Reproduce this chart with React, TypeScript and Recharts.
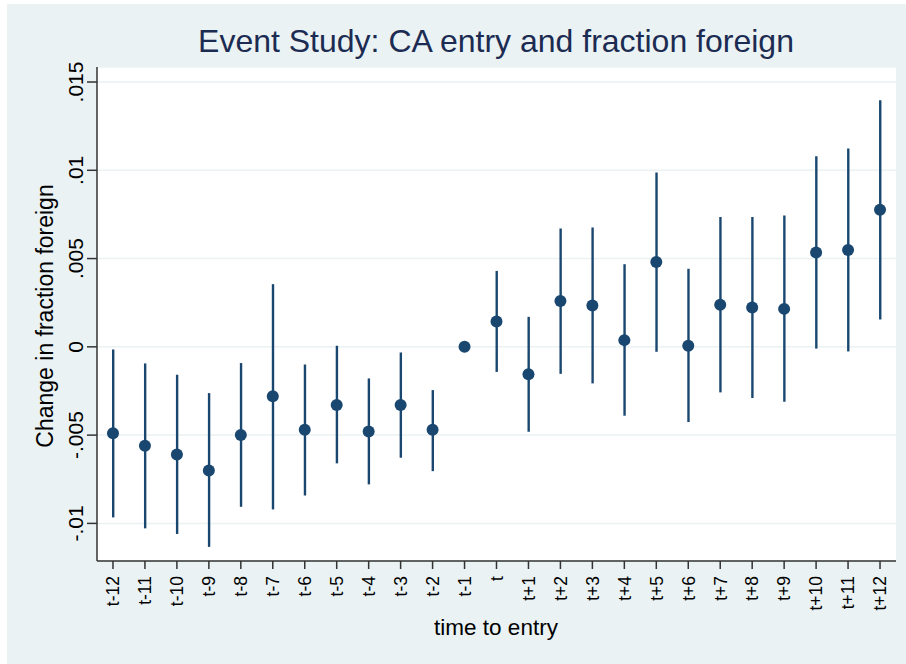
import React from "react";
import { Bar, CartesianGrid, ComposedChart, Line, XAxis, YAxis } from "recharts";

const NAVY = "#1a476f";
const BG = "#eaf2f3";
const AXIS = "#333333";
const FONT = "'Liberation Sans', Arial, Helvetica, sans-serif";

const LABELS = [
  "t-12", "t-11", "t-10", "t-9", "t-8", "t-7", "t-6", "t-5", "t-4", "t-3", "t-2", "t-1",
  "t", "t+1", "t+2", "t+3", "t+4", "t+5", "t+6", "t+7", "t+8", "t+9", "t+10", "t+11", "t+12",
];

const COEF = [
  -0.0049, -0.0056, -0.0061, -0.007, -0.005, -0.0028, -0.0047, -0.0033, -0.0048, -0.0033, -0.0047, 0,
  0.00144, -0.00155, 0.0026, 0.00234, 0.00038, 0.0048, 0.00006, 0.00238, 0.00223, 0.00215, 0.00534, 0.00549, 0.00776,
];

const LOWER = [
  -0.00966, -0.01028, -0.0106, -0.01133, -0.00906, -0.00921, -0.00842, -0.0066, -0.00779, -0.00628, -0.00704, null,
  -0.00142, -0.00481, -0.00153, -0.00207, -0.0039, -0.00028, -0.00426, -0.00258, -0.0029, -0.00311, -0.0001, -0.00026, 0.00155,
];

const UPPER = [
  -0.00015, -0.00094, -0.00158, -0.00262, -0.00092, 0.00355, -0.001, 0.00006, -0.00179, -0.00032, -0.00245, null,
  0.0043, 0.0017, 0.0067, 0.00676, 0.00468, 0.00987, 0.00442, 0.00736, 0.00736, 0.00744, 0.0108, 0.01123, 0.01397,
];

const Y_TICKS = [-0.01, -0.005, 0, 0.005, 0.01, 0.015];

const data = LABELS.map((lab, i) => ({
  lab,
  coef: COEF[i],
  ci: LOWER[i] == null ? null : [LOWER[i], UPPER[i]],
}));

const fmtY = (v: number) => (v === 0 ? "0" : String(v).replace("0.", "."));

const YTick = ({ x, y, payload }: any) => (
  <text
    x={x}
    y={y}
    transform={`rotate(-90 ${x} ${y})`}
    textAnchor="middle"
    fontSize={21}
    fontFamily={FONT}
    fill="#000"
  >
    {fmtY(payload.value)}
  </text>
);

const XTick = ({ x, y, payload }: any) => (
  <text
    x={x}
    y={y}
    dy="0.36em"
    transform={`rotate(-90 ${x} ${y})`}
    textAnchor="end"
    fontSize={17.5}
    fontFamily={FONT}
    fill="#000"
  >
    {payload.value}
  </text>
);

export default function App() {
  return (
    <div style={{ position: "absolute", left: 0, top: 0, width: 906, height: 664, background: "#fff" }}>
      <div style={{ position: "absolute", left: 7, top: 4, width: 899, height: 660, background: BG }} />
      <div style={{ position: "absolute", left: 0, top: 0 }}>
        <ComposedChart
          width={906}
          height={664}
          data={data}
          margin={{ top: 67, right: 10, bottom: 43, left: 37 }}
        >
          <CartesianGrid vertical={false} stroke={BG} strokeWidth={1.5} fill="#fff" fillOpacity={1} />
          <XAxis
            dataKey="lab"
            height={60}
            interval={0}
            tick={<XTick />}
            tickSize={8}
            tickMargin={7}
            axisLine={{ stroke: AXIS, strokeWidth: 1.5 }}
            tickLine={{ stroke: AXIS, strokeWidth: 1.5 }}
          />
          <YAxis
            type="number"
            width={60}
            domain={[-0.01213, 0.01585]}
            allowDataOverflow
            ticks={Y_TICKS}
            interval={0}
            tick={<YTick />}
            tickSize={10}
            tickMargin={4}
            axisLine={{ stroke: AXIS, strokeWidth: 1.5 }}
            tickLine={{ stroke: AXIS, strokeWidth: 1.5 }}
          />
          <Bar dataKey="ci" barSize={2.4} fill={NAVY} isAnimationActive={false} />
          <Line
            dataKey="coef"
            stroke="none"
            dot={{ r: 6, fill: NAVY, stroke: "none" }}
            activeDot={false}
            isAnimationActive={false}
          />
        </ComposedChart>
      </div>
      <svg
        width={906}
        height={664}
        style={{ position: "absolute", left: 0, top: 0, pointerEvents: "none" }}
      >
        <text x={496} y={52} textAnchor="middle" fontSize={32} fontFamily={FONT} fill="#1c2b52">
          Event Study: CA entry and fraction foreign
        </text>
        <text
          x={53}
          y={316}
          transform="rotate(-90 53 316)"
          textAnchor="middle"
          fontSize={23}
          fontFamily={FONT}
          fill="#000"
        >
          Change in fraction foreign
        </text>
        <text x={496} y={635} textAnchor="middle" fontSize={22.5} fontFamily={FONT} fill="#000">
          time to entry
        </text>
      </svg>
    </div>
  );
}
